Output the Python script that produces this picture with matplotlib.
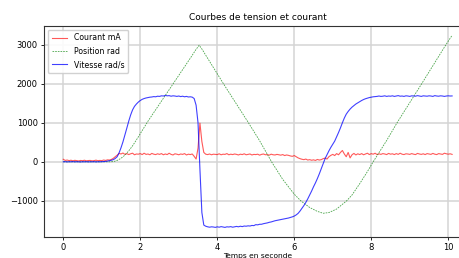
import numpy as np
import matplotlib
matplotlib.use("Agg")
import matplotlib.pyplot as plt

# temps d'echantillonnage (s) pour courant et vitesse
t = np.arange(0, 10.11, 0.05)

# courant (mA)
courant = [
    65, 35, 45, 30, 40, 25, 38, 30, 22, 35,
    28, 40, 25, 32, 35, 25, 30, 42, 28, 35,
    30, 45, 35, 50, 45, 60, 90, 130, 170, 215,
    200, 225, 190, 210, 185, 205, 220, 180, 200, 195,
    210, 185, 220, 190, 200, 180, 215, 195, 185, 205,
    190, 210, 180, 200, 185, 220, 190, 175, 205, 195,
    180, 200, 190, 210, 175, 195, 185, 200, 140, 70,
    350, 990, 520, 240, 195, 185, 200, 180, 195, 190,
    185, 205, 180, 195, 190, 210, 180, 195, 185, 200,
    190, 175, 195, 185, 205, 180, 190, 200, 175, 190,
    185, 195, 170, 190, 200, 180, 185, 170, 195, 180,
    175, 190, 180, 170, 185, 160, 175, 165, 150, 140,
    160, 130, 100, 80, 65, 55, 70, 45, 55, 40,
    50, 35, 60, 45, 55, 80, 95, 70, 130, 165,
    190, 160, 210, 180, 240, 290, 200, 130, 240, 100,
    180, 215, 175, 205, 185, 210, 180, 200, 220, 185,
    210, 195, 220, 185, 205, 190, 210, 200, 185, 215,
    195, 205, 185, 210, 190, 220, 195, 185, 205, 200,
    190, 210, 195, 185, 215, 200, 190, 205, 185, 210,
    200, 190, 215, 195, 185, 210, 200, 190, 220, 205,
    195, 205, 190,
]

# vitesse (rad/s)
vitesse = [
    0, 4, -3, 2, 0, 5, -2, 3, 0, -4,
    2, 0, 3, -2, 1, 0, 4, -3, 2, 0,
    3, 5, 10, 18, 28, 40, 55, 85, 130, 230,
    360, 510, 680, 860, 1040, 1200, 1330, 1420, 1480, 1530,
    1570, 1600, 1620, 1635, 1645, 1655, 1660, 1670, 1665, 1680,
    1675, 1690, 1685, 1700, 1690, 1695, 1680, 1690, 1685, 1675,
    1685, 1670, 1680, 1665, 1675, 1660, 1665, 1656, 1620, 1450,
    1000, -200, -1300, -1620, -1650, -1665, -1675, -1665, -1670, -1680,
    -1665, -1675, -1660, -1670, -1680, -1665, -1670, -1660, -1675, -1665,
    -1655, -1665, -1650, -1660, -1645, -1650, -1640, -1645, -1630, -1635,
    -1610, -1615, -1600, -1600, -1585, -1575, -1565, -1550, -1540, -1525,
    -1510, -1500, -1490, -1480, -1470, -1460, -1450, -1440, -1425, -1410,
    -1390, -1360, -1320, -1260, -1190, -1120, -1040, -950, -850, -750,
    -640, -540, -430, -310, -180, -50, 80, 180, 280, 370,
    450, 530, 640, 750, 870, 1000, 1120, 1220, 1290, 1350,
    1400, 1440, 1480, 1510, 1540, 1570, 1595, 1615, 1630, 1645,
    1655, 1665, 1670, 1675, 1685, 1675, 1680, 1690, 1675, 1685,
    1680, 1690, 1675, 1685, 1695, 1680, 1685, 1675, 1690, 1685,
    1675, 1690, 1685, 1680, 1695, 1685, 1675, 1690, 1685, 1680,
    1690, 1685, 1675, 1695, 1685, 1680, 1690, 1685, 1675, 1685,
    1690, 1685, 1687,
]

# position (rad)
t_pos = [0, 1.2, 1.3, 1.4, 1.5, 1.6, 1.7, 1.8, 1.9, 2.0, 2.1, 2.2, 2.5, 2.8,
         3.1, 3.29, 3.45, 3.53, 3.6, 4.16, 4.81, 5.1, 5.41, 5.7, 6.0, 6.17,
         6.4, 6.6, 6.75, 6.9, 7.1, 7.36, 7.5, 7.7, 7.9, 8.05, 8.4, 8.67,
         9.31, 9.94, 10.1]
position = [0, 0, 5, 35, 90, 170, 280, 410, 560, 720, 880, 1040, 1480, 1920,
            2360, 2640, 2880, 2985, 2890, 2000, 1000, 540, 0, -450, -830, -1000,
            -1170, -1270, -1318, -1300, -1210, -1000, -850, -560, -250, 0, 546, 1000,
            2000, 3000, 3240]

fig = plt.figure(figsize=(4.6, 2.58), dpi=100)
ax = fig.add_axes([0.0957, 0.0814, 0.929, 0.819])

ax.plot(t, courant, color='red', alpha=0.65, linewidth=0.8, label='Courant mA')
ax.plot(t_pos, position, color='green', alpha=0.7, linewidth=0.6,
        linestyle='--', dashes=(2, 1.2), label='Position rad')
ax.plot(t, vitesse, color='blue', alpha=0.75, linewidth=0.8, label='Vitesse rad/s')

ax.set_xlim(-0.5, 10.6)
ax.set_xticks([0, 2, 4, 6, 8, 10])
ax.set_yticks([-1000, 0, 1000, 2000, 3000])
ax.tick_params(labelsize=6, length=2.5, width=0.6, pad=2)
ax.grid(True, color='#d4d4d4', linewidth=1.1)
for s in ax.spines.values():
    s.set_linewidth(0.8)
    s.set_color('#333333')
ax.spines['right'].set_visible(False)
ax.set_title('Courbes de tension et courant', fontsize=6.5, pad=4)
ax.set_xlabel('Temps en seconde', fontsize=5.4, labelpad=0.5)
ax.legend(loc='upper left', fontsize=5.6, handlelength=2.0, borderpad=0.5,
          labelspacing=0.55, framealpha=0.9)

fig.savefig('out.png', dpi=100)
